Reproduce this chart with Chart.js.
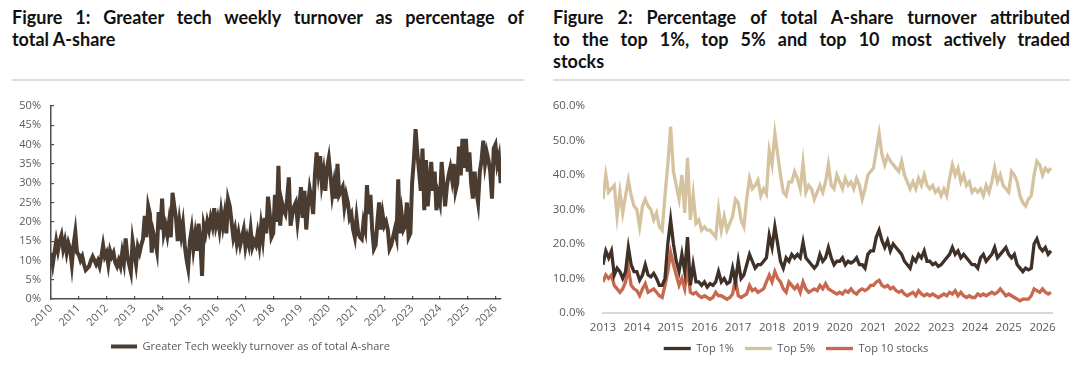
<!DOCTYPE html>
<html lang="en">
<head>
<meta charset="UTF-8">
<title>A-share turnover charts</title>
<script src="https://cdn.jsdelivr.net/npm/chart.js"></script>
<style>
  body { margin: 0; width: 1080px; height: 372px; background: #fff; position: relative; overflow: hidden; }
  .title { position: absolute; top: 6px; font-family: Lato, "Open Sans", sans-serif; font-weight: bold; font-size: 18px; line-height: 22px; color: #111; }
  .title div { white-space: nowrap; }
  .title .j { text-align: justify; text-align-last: justify; }
  .rule { position: absolute; top: 79px; height: 2px; background: #dedede; }
  .box { position: absolute; top: 90px; width: 540px; height: 282px; }
</style>
</head>
<body>
<div class="title" style="left:12px; width:512px;">
  <div class="j">Figure 1: Greater tech weekly turnover as percentage of</div>
  <div>total A-share</div>
</div>
<div class="rule" style="left:12px; width:512px;"></div>
<div class="title" style="left:553px; width:517px;">
  <div class="j">Figure 2: Percentage of total A-share turnover attributed</div>
  <div class="j">to the top 1%, top 5% and top 10 most actively traded</div>
  <div>stocks</div>
</div>
<div class="rule" style="left:553px; width:517px;"></div>

<div class="box" style="left:0px;"><canvas id="techChart"></canvas></div>
<div class="box" style="left:540px;"><canvas id="topChart"></canvas></div>

<script>
// Figure 1: roughly 16 readings per year, starting Jan 2010
var techStart = 2010;
var techPerYear = 16;
var techShare = [
  12, 9, 12, 15, 12.5, 15, 16.5, 13, 15, 12, 14.5, 13, 9, 14, 17.3, 12,
  11.5, 10, 11, 9, 7.5, 8, 8.5, 10, 11, 10, 9, 10, 8.5, 11, 13.9, 11,
  12, 9, 12.5, 11, 12, 9.5, 8.5, 10, 8.5, 12, 9.5, 15.7, 11, 9, 7, 15,
  12, 9, 13.5, 12, 14, 15.5, 21.5, 16, 24, 22, 12, 17, 15, 12.5, 22.5, 18,
  26, 17, 19, 16.5, 20, 16, 27.5, 24, 21, 15, 20, 16.5, 19.5, 14, 10.5, 8,
  15, 18, 13, 16.5, 12.5, 19.5, 15, 6, 19, 17, 20, 18, 21, 19, 23.5, 19,
  21, 18, 22.5, 19, 22, 17, 25.8, 24, 20, 16, 18, 14.5, 17, 14, 16, 18,
  13.5, 16, 14, 18, 13.5, 15, 14, 17, 14, 19, 15.5, 21, 17, 26.5, 22, 16,
  17, 27, 20, 34.5, 19, 25, 23, 22, 26, 31.5, 19, 22, 24, 25, 20, 24,
  29, 21, 28, 18, 24, 28.5, 26, 22, 32, 38, 33, 37, 30, 33, 28, 34,
  36.5, 32, 27, 30, 26, 35, 27, 28, 29, 24, 27, 25, 21, 22, 18, 16,
  21, 17, 16, 15.5, 20, 18, 29.5, 22, 27, 18, 13, 14, 20, 25, 18, 22,
  19, 20, 18, 13, 14, 16, 18, 16, 31, 17, 22, 18, 19, 25, 16, 17,
  30, 36, 44, 38, 33, 28, 39, 23, 36, 24, 30, 35.5, 28, 33, 23, 27,
  25, 35.5, 30, 24, 29, 32, 34, 31, 35, 28, 30, 39.5, 32, 41.5, 34, 41.5,
  33, 38, 30, 26, 33, 28, 25, 33, 36, 41, 35, 38, 36, 33, 26, 39,
  40, 35, 37, 30
];

// Figure 2: monthly readings, starting Jan 2013
var topStart = 2013;
var topPerYear = 12;
var top1 = [
  14, 18, 16, 18, 11, 13, 12, 10, 12, 19, 14, 12,
  12, 9.5, 11, 14, 11, 10.5, 11.5, 10, 8, 8, 10, 20,
  27, 20, 15, 12, 17, 12, 22, 8, 14, 9, 9, 8,
  9, 7.5, 8.5, 8, 9, 12, 9, 10, 8.5, 9, 13, 9,
  15, 10, 11, 14, 17, 15, 13, 14, 14, 15, 16, 22.5,
  19, 25, 20, 15, 13, 16, 15, 17, 16, 17, 16, 20.5,
  16, 15, 14, 13, 14, 17, 15, 16, 19, 16, 14, 15,
  15, 16, 14, 15, 14.5, 15, 16, 14, 14, 13, 17, 18,
  18, 22, 24, 21, 19, 21, 18, 20, 19, 18, 17, 15,
  14, 13, 16, 15, 17, 16, 18, 15, 15, 14, 14.5, 13.5,
  14, 15, 16, 17, 19, 17, 18, 16, 17, 16, 15, 14,
  14, 13, 16, 17, 15, 16, 17, 19, 16, 17, 18, 19,
  17, 16, 17, 14, 13, 12, 13, 12.5, 13, 20, 21.5, 19,
  18, 19, 17, 18
];
var top5 = [
  33, 40, 35, 36, 37, 28, 35, 29, 34, 38.5, 34, 31,
  30, 25, 31, 33, 31, 30, 27, 29, 25, 24, 34, 43,
  54, 41, 37, 33, 40, 29, 45, 27, 34.5, 26, 27, 24,
  25, 24, 24, 23, 22, 30, 24, 28, 24, 26, 28, 33,
  32, 27, 25, 33, 39, 36, 37, 38.5, 34, 36, 34.5, 47,
  43, 52, 46, 40, 35, 34, 38, 38, 41, 39, 36, 43.5,
  35, 37, 36, 33, 35, 37, 35, 38, 43, 37, 36, 40,
  38, 36, 39, 37, 38, 36, 39, 37, 33, 36, 40, 41,
  42, 47, 52, 46, 43, 45.5, 44, 43, 42, 41, 44, 40,
  38, 36, 38, 36, 39, 37, 40, 37, 36, 37, 35, 36,
  34, 36, 34, 39, 43, 40, 42, 38, 40, 37, 38, 35,
  36, 35, 36, 34, 37, 35, 38, 42, 38, 40, 37, 36,
  35, 41, 40, 38, 34, 32, 31, 33, 34, 40, 44, 43,
  40, 42, 41, 42
];
var top10 = [
  9, 11, 10, 11, 8, 7, 6, 7, 9, 13, 8, 7,
  6.5, 5, 7, 8.5, 6, 6.5, 7, 6, 5, 4.5, 8, 12,
  17.5, 14, 11, 8, 10, 7, 13, 6, 5.5, 6, 5, 4.5,
  5, 4.5, 4, 4.5, 6, 5, 5, 4.5, 4, 4.5, 5.5, 10,
  5, 4.5, 5, 5.5, 8, 6.5, 7, 6, 6.5, 7, 9, 11,
  9, 12, 10, 9, 7, 6, 9, 8, 7, 8, 6, 9,
  7, 6, 6.5, 7, 6.5, 8, 7, 8.5, 7, 6.5, 6, 5.5,
  6, 5.5, 6.5, 6, 7, 6, 5.5, 6.5, 7, 6.5, 7, 8,
  8, 9, 9.5, 8, 7.5, 8, 7, 7.5, 6.5, 6, 6.5, 5.5,
  5, 5.5, 6, 5, 6.5, 5.5, 5, 5.5, 5, 5.5, 5, 4.5,
  5, 5.5, 5, 6, 5.5, 6.5, 5, 6, 5, 4.5, 5, 4.5,
  4.5, 5.5, 5, 5.5, 5, 5.5, 6, 5.5, 6, 7, 6, 5,
  5.5, 5, 4.5, 4, 3.5, 4, 4, 4, 5, 7, 6.5, 6,
  7, 6, 5.5, 6
];

function toPoints(values, start, perYear) {
  return values.map(function (v, i) { return { x: start + i / perYear, y: v }; });
}

var tickFont = { family: 'Open Sans', size: 11 };
var tickColor = '#595959';
var yearLabel = function (v) { return Number.isInteger(v) ? String(v) : ''; };

new Chart(document.getElementById('techChart'), {
  type: 'line',
  data: {
    datasets: [{
      label: 'Greater Tech weekly turnover as of total A-share',
      data: toPoints(techShare, techStart, techPerYear),
      borderColor: '#4a3c31',
      backgroundColor: '#4a3c31',
      borderWidth: 4,
      pointRadius: 0,
      tension: 0
    }]
  },
  options: {
    responsive: true,
    maintainAspectRatio: false,
    animation: false,
    layout: { padding: { top: 16, bottom: 10, left: 0, right: 39 } },
    plugins: {
      tooltip: { enabled: false },
      legend: {
        position: 'bottom',
        labels: { usePointStyle: true, pointStyle: 'line', pointStyleWidth: 26, padding: 8,
                  color: tickColor, font: tickFont }
      }
    },
    scales: {
      x: {
        type: 'linear', min: 2010, max: 2026.2,
        afterFit: function (s) { s.height = 34; },
        border: { display: true, color: '#4d4d4d', width: 1.5 },
        grid: { drawOnChartArea: false, drawTicks: true, tickLength: -3, color: '#4d4d4d', lineWidth: 1.2 },
        ticks: { stepSize: 1, includeBounds: false, autoSkip: false, maxRotation: 45, minRotation: 45,
                 padding: 6, color: tickColor, font: tickFont, callback: yearLabel }
      },
      y: {
        min: 0, max: 50,
        afterFit: function (s) { s.width = 51; s.paddingTop = 8; s.paddingBottom = 8; },
        border: { display: true, color: '#4d4d4d', width: 1.5 },
        grid: { drawOnChartArea: false, drawTicks: true, tickLength: -3, color: '#4d4d4d', lineWidth: 1.2 },
        ticks: { stepSize: 5, padding: 13, color: tickColor, font: tickFont,
                 callback: function (v) { return v + '%'; } }
      }
    }
  }
});

new Chart(document.getElementById('topChart'), {
  type: 'line',
  data: {
    datasets: [
      { label: 'Top 1%', data: toPoints(top1, topStart, topPerYear), borderColor: '#3f3128', backgroundColor: '#3f3128' },
      { label: 'Top 5%', data: toPoints(top5, topStart, topPerYear), borderColor: '#d5c29f', backgroundColor: '#d5c29f' },
      { label: 'Top 10 stocks', data: toPoints(top10, topStart, topPerYear), borderColor: '#c8684f', backgroundColor: '#c8684f' }
    ]
  },
  options: {
    responsive: true,
    maintainAspectRatio: false,
    animation: false,
    datasets: { line: { borderWidth: 3.3, pointRadius: 0, tension: 0 } },
    layout: { padding: { top: 16, bottom: 8, left: 0, right: 28 } },
    plugins: {
      tooltip: { enabled: false },
      legend: {
        position: 'bottom',
        labels: { usePointStyle: true, pointStyle: 'line', pointStyleWidth: 27, padding: 11,
                  color: tickColor, font: tickFont }
      }
    },
    scales: {
      x: {
        type: 'linear', min: 2013, max: 2026.28,
        afterFit: function (s) { s.height = 19; },
        border: { display: true, color: '#d9d9d9', width: 2 },
        grid: { display: false },
        ticks: { stepSize: 1, includeBounds: false, autoSkip: false, maxRotation: 0, padding: 0,
                 color: tickColor, font: { family: 'Open Sans', size: 11.5 }, callback: yearLabel }
      },
      y: {
        min: 0, max: 60,
        afterFit: function (s) { s.width = 63; s.paddingTop = 8; s.paddingBottom = 8; },
        border: { display: false },
        grid: { display: false },
        ticks: { stepSize: 10, padding: 10, color: tickColor, font: { family: 'Open Sans', size: 11.5 },
                 callback: function (v) { return v.toFixed(1) + '%'; } }
      }
    }
  }
});
</script>
</body>
</html>
